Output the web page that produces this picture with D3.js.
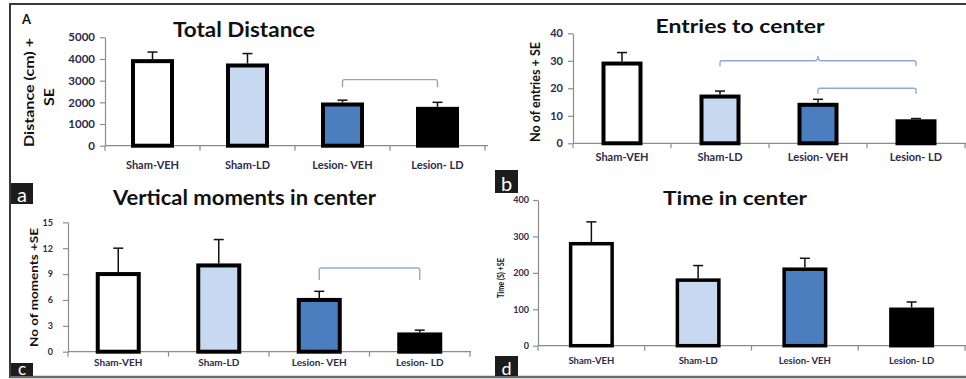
<!DOCTYPE html>
<html>
<head>
<meta charset="utf-8">
<script src="https://cdn.jsdelivr.net/npm/d3@7/dist/d3.min.js"></script>
<style>
  html, body { margin: 0; padding: 0; background: #fff; }
  svg { display: block; }
  text { font-family: Lato, "Open Sans", sans-serif; }
</style>
</head>
<body>
<svg id="chart" width="966" height="379"></svg>
<script>
// ---------------- DATA ----------------
const categories = ["Sham-VEH", "Sham-LD", "Lesion- VEH", "Lesion- LD"];

const distanceMeans = [3900, 3700, 1900, 1700];
const distanceSE    = [420, 550, 200, 300];
const distanceTicks = [0, 1000, 2000, 3000, 4000, 5000];

const entriesMeans = [29, 17, 14, 8];
const entriesSE    = [4, 2, 2, 1];
const entriesTicks = [0, 10, 20, 30, 40];

const momentsMeans = [9, 10, 6, 2];
const momentsSE    = [3, 3, 1, 0.5];
const momentsTicks = [0, 3, 6, 9, 12, 15];

const timeMeans = [280, 180, 210, 100];
const timeSE    = [60, 40, 30, 20];
const timeTicks = [0, 100, 200, 300, 400];

// brackets: [from category index, to category index, level value, end drop value, notch value or null]
const distanceBrackets = [[2, 3, 3050, 2700, null]];
const entriesBrackets  = [[1, 3, 30, 28, 31.8], [2, 3, 20, 18, null]];
const momentsBrackets  = [[2, 3, 9.7, 8.3, null]];
const timeBrackets     = [];

// ---------------- STYLE ----------------
const barFills = ["#ffffff", "#c6d9f0", "#4a7ebf", "#000000"];
const textColor = "#2d2a4a";

const svg = d3.select("#chart");

function panel(cfg, means, ses, ticks, brackets) {
  const g = svg.append("g");
  const x = d3.scaleBand().domain(categories).range([cfg.x0, cfg.x1]).padding(0);
  const y = d3.scaleLinear().domain([0, d3.max(ticks)]).range([cfg.y0, cfg.yTop]);

  // y axis
  const ya = g.append("g").attr("transform", `translate(${cfg.x0},0)`)
    .call(d3.axisLeft(y).tickValues(ticks).tickFormat(d3.format("d"))
      .tickSize(cfg.tick).tickSizeOuter(0).tickPadding(cfg.tickPad));
  ya.select(".domain").attr("stroke", "#8c8c8c").attr("stroke-width", 1.2);
  ya.selectAll(".tick line").attr("stroke", "#8c8c8c").attr("stroke-width", 1.2);
  ya.selectAll(".tick text").attr("fill", textColor).attr("font-size", cfg.tickFs)
    .attr("font-weight", "bold").attr("font-family", "Lato, sans-serif");

  // x axis line and boundary ticks
  g.append("line").attr("x1", cfg.x0).attr("x2", cfg.xLineEnd)
    .attr("y1", y(0)).attr("y2", y(0)).attr("stroke", "#8c8c8c").attr("stroke-width", 1.2);
  const bounds = categories.map(c => x(c)).concat([cfg.x1]);
  g.selectAll(".xt").data(bounds).enter().append("line")
    .attr("x1", d => d).attr("x2", d => d)
    .attr("y1", y(0)).attr("y2", y(0) + cfg.tick)
    .attr("stroke", "#8c8c8c").attr("stroke-width", 1.2);

  // category labels
  g.selectAll(".cl").data(categories).enter().append("text")
    .attr("x", d => x(d) + x.bandwidth() / 2)
    .attr("y", cfg.catY)
    .attr("text-anchor", "middle")
    .attr("font-size", cfg.catFs)
    .attr("font-weight", "bold")
    .attr("fill", textColor)
    .text(d => d);

  // bars
  g.selectAll(".bar").data(means).enter().append("rect")
    .attr("x", (d, i) => x(categories[i]) + x.bandwidth() / 2 - cfg.barW / 2)
    .attr("y", d => y(d))
    .attr("width", cfg.barW)
    .attr("height", d => y(0) - y(d))
    .attr("fill", (d, i) => barFills[i])
    .attr("stroke", "#000")
    .attr("stroke-width", cfg.barStroke);

  // error bars
  means.forEach((m, i) => {
    const cx = x(categories[i]) + x.bandwidth() / 2;
    g.append("line").attr("x1", cx).attr("x2", cx)
      .attr("y1", y(m) - cfg.barStroke / 2).attr("y2", y(m + ses[i]))
      .attr("stroke", "#111").attr("stroke-width", 1.5);
    g.append("line").attr("x1", cx - cfg.cap).attr("x2", cx + cfg.cap)
      .attr("y1", y(m + ses[i])).attr("y2", y(m + ses[i]))
      .attr("stroke", "#111").attr("stroke-width", 1.5);
  });

  // brackets
  brackets.forEach(b => {
    const xa = x(categories[b[0]]) + x.bandwidth() / 2;
    const xb = x(categories[b[1]]) + x.bandwidth() / 2;
    const yl = y(b[2]), ye = y(b[3]);
    let p = `M${xa},${ye} L${xa},${yl + 2} Q${xa},${yl} ${xa + 2},${yl} `;
    if (b[4] !== null) {
      const xm = (xa + xb) / 2, yn = y(b[4]);
      p += `L${xm - 3},${yl} Q${xm},${yl} ${xm},${yn} Q${xm},${yl} ${xm + 3},${yl} `;
    }
    p += `L${xb - 2},${yl} Q${xb},${yl} ${xb},${yl + 2} L${xb},${ye}`;
    g.append("path").attr("d", p).attr("fill", "none")
      .attr("stroke", cfg.bracketColor).attr("stroke-width", 1.4);
  });

  // title
  g.append("text").attr("x", cfg.titleX).attr("y", cfg.titleY)
    .attr("text-anchor", "middle").attr("font-size", cfg.titleFs)
    .attr("font-weight", "bold").attr("fill", "#111")
    .attr("textLength", cfg.titleLen).attr("lengthAdjust", "spacingAndGlyphs")
    .text(cfg.title);

  // y title lines
  cfg.yTitles.forEach(t => {
    g.append("text")
      .attr("transform", `translate(${t.x},${t.y}) rotate(-90)`)
      .attr("text-anchor", "middle").attr("dominant-baseline", "central")
      .attr("font-size", t.fs).attr("font-weight", "bold").attr("fill", "#111")
      .attr("textLength", t.len).attr("lengthAdjust", "spacingAndGlyphs")
      .text(t.text);
  });
}

// Panel A: Total Distance
panel({
  x0: 105, x1: 485, xLineEnd: 488, y0: 145.7, yTop: 37.3,
  tick: 5, tickPad: 5, tickFs: 11.5, catY: 169, catFs: 11,
  barW: 39, barStroke: 4, cap: 5, bracketColor: "#a3a3a3",
  title: "Total Distance", titleX: 244, titleY: 37, titleFs: 20, titleLen: 142,
  yTitles: [
    { text: "Distance  (cm) +", x: 28, y: 92.5, fs: 14, len: 109 },
    { text: "SE", x: 48, y: 97, fs: 14, len: 18 }
  ]
}, distanceMeans, distanceSE, distanceTicks, distanceBrackets);

// Panel B: Entries to center
panel({
  x0: 573, x1: 965, xLineEnd: 966, y0: 143.3, yTop: 33.3,
  tick: 5, tickPad: 5, tickFs: 11, catY: 161, catFs: 11,
  barW: 37, barStroke: 4, cap: 5, bracketColor: "#8eaadb",
  title: "Entries to center", titleX: 740, titleY: 33, titleFs: 19, titleLen: 169,
  yTitles: [
    { text: "No of entries + SE", x: 535, y: 92, fs: 13, len: 100 }
  ]
}, entriesMeans, entriesSE, entriesTicks, entriesBrackets);

// Panel C: Vertical moments in center
panel({
  x0: 68, x1: 470, xLineEnd: 471, y0: 351.7, yTop: 222.3,
  tick: 5, tickPad: 10, tickFs: 9, catY: 366, catFs: 10,
  barW: 41, barStroke: 4, cap: 5, bracketColor: "#8eaadb",
  title: "Vertical moments in center", titleX: 244.5, titleY: 205, titleFs: 20, titleLen: 263,
  yTitles: [
    { text: "No of moments +SE", x: 33, y: 287.5, fs: 11, len: 119 }
  ]
}, momentsMeans, momentsSE, momentsTicks, momentsBrackets);

// Panel D: Time in center
panel({
  x0: 538, x1: 965, xLineEnd: 966, y0: 345.7, yTop: 200,
  tick: 5, tickPad: 4, tickFs: 9, catY: 364, catFs: 9.5,
  barW: 41.5, barStroke: 3.5, cap: 5, bracketColor: "#8eaadb",
  title: "Time in center", titleX: 735, titleY: 205, titleFs: 19, titleLen: 144,
  yTitles: [
    { text: "Time (S) +SE", x: 501, y: 278, fs: 8.5, len: 40 }
  ]
}, timeMeans, timeSE, timeTicks, timeBrackets);

// Outer frame
svg.append("line").attr("x1", 10).attr("x2", 966).attr("y1", 4).attr("y2", 4)
  .attr("stroke", "#3a3a3a").attr("stroke-width", 2);
svg.append("line").attr("x1", 10).attr("x2", 10).attr("y1", 3).attr("y2", 378)
  .attr("stroke", "#3a3a3a").attr("stroke-width", 2);
svg.append("line").attr("x1", 10).attr("x2", 966).attr("y1", 377).attr("y2", 377)
  .attr("stroke", "#6a6a6a").attr("stroke-width", 2.5);

// Panel "A" marker
svg.append("text").attr("x", 22).attr("y", 24).attr("font-size", 13)
  .attr("font-weight", "bold").attr("fill", "#111").attr("font-family", "Liberation Sans, Arial, sans-serif")
  .text("A");

// Letter boxes
const letterBoxes = [
  { t: "a", x: 11, y: 183, w: 22, h: 21, base: 201.5, fs: 20 },
  { t: "b", x: 495, y: 170, w: 23, h: 23, base: 190.5, fs: 20 },
  { t: "c", x: 11, y: 363, w: 22, h: 13, base: 375, fs: 17 },
  { t: "d", x: 495, y: 356, w: 23, h: 20, base: 375, fs: 18 }
];
letterBoxes.forEach(b => {
  svg.append("rect").attr("x", b.x).attr("y", b.y).attr("width", b.w).attr("height", b.h).attr("fill", "#1c1c1c");
  svg.append("text").attr("x", b.x + b.w / 2).attr("y", b.base)
    .attr("text-anchor", "middle").attr("font-size", b.fs).attr("fill", "#fff")
    .attr("font-family", "Liberation Sans, Arial, sans-serif").text(b.t);
});
</script>
</body>
</html>
